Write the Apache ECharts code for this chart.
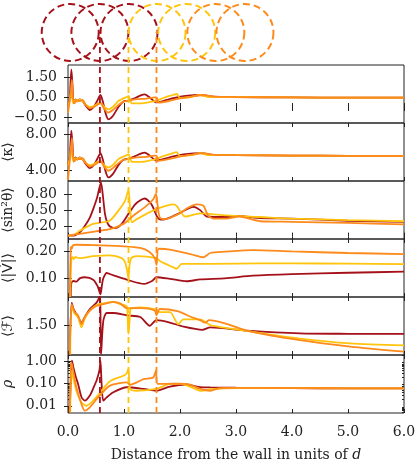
<!DOCTYPE html>
<html>
<head>
<meta charset="utf-8">
<script src="https://cdn.jsdelivr.net/npm/echarts@6/dist/echarts.min.js"></script>
<style>
  html, body { margin: 0; padding: 0; background: #fff; }
  #chart { width: 415px; height: 468px; }
</style>
</head>
<body>
<div id="chart"></div>
<script>
// x positions of the dashed circles (top strip) and of the dashed vertical markers
const circlesRed = [0.04, 0.57, 1.09]
const circlesYellow = [1.59, 2.12]
const circlesOrange = [2.64, 3.16]
const markerX = [0.57, 1.08, 1.58]

const xTickLabels = [0, 1, 2, 3, 4, 5, 6]

// panel 1: Gamma
const gammaRed = [[0,0.0],[0.03,0.4],[0.06,1.88],[0.08,1.1],[0.1,0.18],[0.13,0.38],[0.17,0.28],[0.21,0.38],[0.26,0.3],[0.32,0.05],[0.39,-0.15],[0.46,0.0],[0.52,0.3],[0.58,0.6],[0.62,0.3],[0.67,-0.3],[0.72,-0.62],[0.8,-0.45],[0.9,0.0],[0.99,0.27],[1.08,0.32],[1.2,0.45],[1.3,0.58],[1.37,0.63],[1.45,0.5],[1.58,0.23],[1.7,0.3],[1.9,0.45],[2.1,0.55],[2.36,0.6],[2.6,0.52],[3.0,0.5],[4.0,0.48],[5.0,0.47],[6.0,0.47]]
const gammaYellow = [[0,0.0],[0.03,0.3],[0.06,0.9],[0.09,0.2],[0.13,0.35],[0.17,0.28],[0.21,0.38],[0.26,0.3],[0.32,0.1],[0.39,0.0],[0.46,0.05],[0.52,0.15],[0.58,0.2],[0.65,0.0],[0.72,-0.12],[0.8,0.0],[0.9,0.3],[0.99,0.43],[1.05,0.5],[1.08,0.55],[1.11,0.35],[1.14,0.18],[1.3,0.18],[1.45,0.24],[1.58,0.32],[1.7,0.45],[1.85,0.58],[1.94,0.65],[2.0,0.45],[2.2,0.5],[2.36,0.6],[2.5,0.5],[3.0,0.5],[4.0,0.48],[5.0,0.47],[6.0,0.47]]
const gammaOrange = [[0,-0.3],[0.04,0.5],[0.07,1.35],[0.09,0.4],[0.12,0.2],[0.16,0.35],[0.21,0.3],[0.26,0.35],[0.32,0.1],[0.39,-0.07],[0.46,0.0],[0.52,0.1],[0.58,0.2],[0.65,-0.1],[0.72,-0.28],[0.8,-0.15],[0.9,0.1],[0.99,0.27],[1.08,0.32],[1.2,0.38],[1.4,0.42],[1.55,0.48],[1.58,0.48],[1.62,0.22],[1.8,0.3],[2.0,0.43],[2.2,0.52],[2.42,0.6],[2.6,0.52],[3.0,0.5],[4.0,0.48],[5.0,0.47],[6.0,0.47]]

// panel 2: <kappa>
const kappaRed = [[0,4.55],[0.03,5.4],[0.06,8.35],[0.08,6.9],[0.1,4.95],[0.13,5.4],[0.17,5.17],[0.21,5.4],[0.26,5.2],[0.32,4.66],[0.39,4.22],[0.46,4.55],[0.52,5.2],[0.58,5.87],[0.62,5.2],[0.67,3.89],[0.72,3.19],[0.8,3.56],[0.9,4.55],[0.99,5.14],[1.08,5.25],[1.2,5.54],[1.3,5.83],[1.37,5.94],[1.45,5.65],[1.58,5.06],[1.7,5.21],[1.9,5.54],[2.1,5.76],[2.36,5.87],[2.6,5.69],[3.0,5.65],[4.0,5.61],[5.0,5.58],[6.0,5.58]]
const kappaYellow = [[0,4.55],[0.03,5.21],[0.06,6.53],[0.09,4.99],[0.13,5.32],[0.17,5.17],[0.21,5.39],[0.26,5.21],[0.32,4.77],[0.39,4.55],[0.46,4.66],[0.52,4.88],[0.58,4.99],[0.65,4.55],[0.72,4.29],[0.8,4.55],[0.9,5.21],[0.99,5.5],[1.05,5.65],[1.08,5.76],[1.11,5.32],[1.14,4.9],[1.3,4.9],[1.45,5.05],[1.58,5.25],[1.7,5.54],[1.85,5.83],[1.94,5.98],[2.0,5.54],[2.2,5.65],[2.36,5.87],[2.5,5.65],[3.0,5.65],[4.0,5.61],[5.0,5.58],[6.0,5.58]]
const kappaOrange = [[0,2.9],[0.04,5.65],[0.07,7.52],[0.09,5.43],[0.12,4.99],[0.16,5.32],[0.21,5.21],[0.26,5.32],[0.32,4.77],[0.39,4.4],[0.46,4.55],[0.52,4.77],[0.58,4.99],[0.65,4.33],[0.72,3.93],[0.8,4.22],[0.9,4.77],[0.99,5.14],[1.08,5.25],[1.2,5.39],[1.4,5.47],[1.55,5.61],[1.58,5.61],[1.62,5.03],[1.8,5.21],[2.0,5.5],[2.2,5.69],[2.42,5.87],[2.6,5.69],[3.0,5.65],[4.0,5.61],[5.0,5.58],[6.0,5.58]]

// panel 3: <sin^2 theta>
const sinRed = [[0,0.02],[0.1,0.02],[0.21,0.08],[0.3,0.2],[0.39,0.36],[0.46,0.55],[0.52,0.74],[0.56,0.92],[0.59,1.02],[0.62,0.8],[0.66,0.43],[0.7,0.27],[0.75,0.19],[0.84,0.16],[0.96,0.24],[1.08,0.43],[1.2,0.61],[1.3,0.69],[1.37,0.72],[1.49,0.61],[1.6,0.36],[1.66,0.32],[1.82,0.36],[2.0,0.45],[2.24,0.56],[2.36,0.5],[2.48,0.38],[2.83,0.37],[3.05,0.39],[3.43,0.35],[4.0,0.34],[5.0,0.3],[6.0,0.28]]
const sinYellow = [[0,0.02],[0.1,0.03],[0.21,0.11],[0.45,0.24],[0.74,0.3],[0.9,0.49],[1.02,0.68],[1.08,0.88],[1.11,0.5],[1.14,0.27],[1.23,0.33],[1.4,0.43],[1.58,0.52],[1.88,0.61],[1.94,0.58],[2.09,0.38],[2.36,0.44],[2.83,0.4],[3.43,0.37],[4.0,0.34],[5.0,0.31],[6.0,0.29]]
const sinOrange = [[0,0.02],[0.21,0.05],[0.5,0.1],[0.75,0.14],[0.99,0.24],[1.16,0.39],[1.4,0.58],[1.52,0.7],[1.57,0.81],[1.6,0.6],[1.64,0.36],[1.73,0.33],[1.98,0.43],[2.15,0.55],[2.3,0.61],[2.42,0.58],[2.5,0.4],[2.6,0.34],[2.83,0.34],[3.05,0.38],[3.43,0.29],[4.0,0.28],[5.0,0.26],[6.0,0.23]]

// panel 4: <|V|>
const vRed = [[0.05,0.03],[0.06,0.083],[0.1,0.09],[0.15,0.088],[0.21,0.1],[0.3,0.104],[0.45,0.095],[0.53,0.07],[0.58,0.04],[0.61,0.08],[0.63,0.1],[0.69,0.12],[0.81,0.111],[1.05,0.095],[1.36,0.079],[1.5,0.09],[1.58,0.104],[1.82,0.098],[2.12,0.089],[2.36,0.096],[2.8,0.1],[3.3,0.11],[4.0,0.116],[5.0,0.121],[6.0,0.125]]
const vYellow = [[0.04,0.03],[0.06,0.17],[0.08,0.18],[0.1,0.172],[0.13,0.18],[0.2,0.176],[0.45,0.183],[0.75,0.186],[0.96,0.176],[1.02,0.16],[1.06,0.125],[1.08,0.1],[1.1,0.15],[1.13,0.176],[1.23,0.183],[1.58,0.176],[1.64,0.165],[1.88,0.141],[1.94,0.136],[2.03,0.154],[2.54,0.154],[3.43,0.156],[4.0,0.156],[5.0,0.155],[6.0,0.153]]
const vOrange = [[0.03,0.03],[0.05,0.214],[0.06,0.218],[0.07,0.212],[0.09,0.224],[0.15,0.226],[0.5,0.224],[1.0,0.22],[1.29,0.214],[1.45,0.2],[1.55,0.176],[1.58,0.15],[1.62,0.211],[1.82,0.208],[2.2,0.19],[2.42,0.179],[2.54,0.195],[2.8,0.2],[3.3,0.206],[4.0,0.201],[5.0,0.195],[6.0,0.191]]

// panel 5: <F>
const fRed = [[0.03,1.13],[0.065,1.78],[0.1,1.7],[0.18,1.6],[0.24,1.53],[0.3,1.6],[0.39,1.7],[0.51,1.78],[0.56,1.85],[0.575,1.9],[0.59,1.13],[0.63,1.55],[0.69,1.65],[0.81,1.65],[1.05,1.62],[1.29,1.6],[1.46,1.49],[1.58,1.56],[1.82,1.53],[2.06,1.48],[2.4,1.44],[2.54,1.47],[3.2,1.43],[4.14,1.396],[5.0,1.39],[6.0,1.388]]
const fYellow = [[0.04,1.13],[0.065,1.72],[0.12,1.64],[0.18,1.6],[0.24,1.47],[0.3,1.58],[0.39,1.68],[0.51,1.75],[0.63,1.77],[0.81,1.79],[0.93,1.76],[1.05,1.73],[1.07,1.5],[1.08,1.39],[1.1,1.55],[1.12,1.7],[1.29,1.72],[1.55,1.7],[1.64,1.66],[1.82,1.66],[1.97,1.51],[2.06,1.57],[2.36,1.57],[2.54,1.5],[3.25,1.42],[4.14,1.33],[5.04,1.27],[6.0,1.245]]
const fOrange = [[0.03,1.13],[0.065,1.76],[0.12,1.66],[0.18,1.62],[0.24,1.51],[0.3,1.6],[0.39,1.68],[0.51,1.74],[0.63,1.76],[0.81,1.79],[0.93,1.77],[1.05,1.71],[1.29,1.71],[1.55,1.68],[1.58,1.62],[1.64,1.7],[1.97,1.67],[2.2,1.6],[2.36,1.56],[2.45,1.53],[2.52,1.56],[2.8,1.52],[3.25,1.42],[4.14,1.31],[5.04,1.23],[6.0,1.167]]

// panel 6: rho (log)
const rhoRed = [[0.03,0.005],[0.06,0.6],[0.07,1.1],[0.1,0.5],[0.14,0.2],[0.18,0.098],[0.24,0.025],[0.3,0.017],[0.39,0.029],[0.46,0.07],[0.51,0.14],[0.56,0.39],[0.58,1.1],[0.6,0.1],[0.63,0.017],[0.69,0.024],[0.81,0.041],[1.05,0.069],[1.35,0.058],[1.58,0.048],[1.82,0.074],[2.12,0.091],[2.36,0.07],[2.54,0.068],[3.0,0.066],[4.0,0.063],[5.0,0.062],[6.0,0.062]]
const rhoYellow = [[0.04,0.005],[0.06,0.39],[0.1,0.15],[0.15,0.048],[0.24,0.014],[0.33,0.01],[0.45,0.017],[0.6,0.048],[0.75,0.13],[0.99,0.23],[1.05,0.3],[1.08,0.47],[1.11,0.058],[1.23,0.048],[1.58,0.058],[1.82,0.098],[2.0,0.1],[2.2,0.07],[2.36,0.048],[2.6,0.058],[3.0,0.063],[4.0,0.063],[5.0,0.062],[6.0,0.062]]
const rhoOrange = [[0.03,0.005],[0.05,0.5],[0.06,0.93],[0.1,0.3],[0.15,0.068],[0.24,0.012],[0.3,0.006],[0.39,0.0085],[0.51,0.02],[0.6,0.036],[0.75,0.082],[1.05,0.115],[1.11,0.09],[1.23,0.115],[1.35,0.16],[1.52,0.19],[1.57,0.39],[1.6,0.098],[1.88,0.1],[2.12,0.098],[2.36,0.058],[2.54,0.048],[2.7,0.062],[3.0,0.065],[4.0,0.063],[5.0,0.062],[6.0,0.062]]

const colors = ['#a5111a', '#ffc40c', '#fd8a1a']
const font = 'DejaVu Serif, DejaVu Sans, serif'

const panels = [
  { name: 'Γ', min: -0.8, max: 2.1, ticks: [-0.5, 0.5, 1.5], data: [gammaRed, gammaYellow, gammaOrange] },
  { name: '⟨κ⟩', min: 2.8, max: 9.2, ticks: [4, 8], data: [kappaRed, kappaYellow, kappaOrange] },
  { name: '⟨sin²θ⟩', min: -0.045, max: 1.05, ticks: [0.2, 0.5, 0.8], data: [sinRed, sinYellow, sinOrange] },
  { name: '⟨|V⃗|⟩', min: 0.03, max: 0.2475, ticks: [0.1, 0.2], data: [vRed, vYellow, vOrange] },
  { name: '⟨ℱ⟩', min: 1.125, max: 1.85, ticks: [1.5], data: [fRed, fYellow, fOrange] },
  { name: 'ρ', log: true, min: 0.0047, max: 2.0, ticks: [0.01, 0.1, 1],
    minor: [0.005,0.006,0.007,0.008,0.009,0.02,0.03,0.04,0.05,0.06,0.07,0.08,0.09,0.2,0.3,0.4,0.5,0.6,0.7,0.8,0.9,2],
    data: [rhoRed, rhoYellow, rhoOrange] }
]

const grid = []
const xAxis = []
const yAxis = []
const series = []
const tickStyle = { lineStyle: { color: '#222', width: 1 } }

panels.forEach((p, i) => {
  grid.push({ left: 68, right: 11, top: 65 + i * 58, height: 58, show: true, borderColor: '#222', borderWidth: 1,
    backgroundColor: 'transparent', outerBoundsMode: 'none', containLabel: false })
  const last = i === panels.length - 1
  ;['bottom', 'top'].forEach(pos => {
    xAxis.push({
      gridIndex: i, type: 'value', min: 0, max: 6, interval: 1, position: pos,
      axisLine: { show: false },
      axisTick: { show: true, inside: true, length: 4, ...tickStyle },
      axisLabel: { show: last && pos === 'bottom', margin: 12, fontFamily: font, fontSize: 14, color: '#222',
        formatter: v => v.toFixed(1) },
      splitLine: { show: false },
      name: last && pos === 'bottom' ? 'Distance from the wall in units of {i|d}' : '',
      nameLocation: 'middle', nameGap: 35,
      nameTextStyle: { fontFamily: font, fontSize: 14, color: '#222', rich: { i: { fontFamily: font, fontSize: 14, fontStyle: 'italic', color: '#222' } } }
    })
  })
  const yBase = {
    gridIndex: i, type: p.log ? 'log' : 'value', logBase: 10, min: p.min, max: p.max,
    axisLine: { show: false }, splitLine: { show: false }
  }
  yAxis.push({
    ...yBase, position: 'left',
    axisTick: { show: true, inside: true, length: 4, customValues: p.ticks, ...tickStyle },
    axisLabel: { show: true, customValues: p.ticks, margin: 11, fontFamily: font, fontSize: 14, color: '#222',
      formatter: v => Number(v).toFixed(2).replace('-', '−') },
    name: p.name, nameLocation: 'middle', nameGap: 47, nameRotate: 90,
    nameTextStyle: { fontFamily: font, fontSize: 14, color: '#222', fontStyle: p.log ? 'italic' : 'normal' }
  })
  yAxis.push({
    ...yBase, position: 'right',
    axisTick: { show: true, inside: true, length: 4, customValues: p.ticks, ...tickStyle },
    axisLabel: { show: false }
  })
  series.push(...p.data.map((d, k) => ({
    type: 'line', xAxisIndex: 2 * i, yAxisIndex: 2 * i, data: d,
    showSymbol: false, smooth: 0.25, silent: true, clip: true,
    lineStyle: { color: colors[k], width: 1.8 }, z: 2 + k
  })))
})

// minor ticks of the log panel
const rhoGrid = panels.length - 1
const rhoP = panels[rhoGrid]
;['left', 'right'].forEach(pos => {
  yAxis.push({
    gridIndex: rhoGrid, type: 'log', logBase: 10, min: rhoP.min, max: rhoP.max, position: pos,
    axisLine: { show: false }, splitLine: { show: false }, axisLabel: { show: false },
    axisTick: { show: true, inside: true, length: 2, customValues: rhoP.minor, ...tickStyle }
  })
})

// strip with dashed circles on top
const circleGrid = grid.length
grid.push({ left: 68, right: 11, top: 3, height: 59, outerBoundsMode: 'none', containLabel: false })
xAxis.push({ gridIndex: circleGrid, type: 'value', min: 0, max: 6, show: false })
yAxis.push({ gridIndex: circleGrid, type: 'value', min: 0, max: 1, show: false })
const circleIdxX = xAxis.length - 1
const circleIdxY = yAxis.length - 1
;[circlesRed, circlesYellow, circlesOrange].forEach((arr, k) => {
  series.push({
    type: 'scatter', xAxisIndex: circleIdxX, yAxisIndex: circleIdxY, silent: true,
    data: arr.map(x => [x, 0.5]), symbol: 'circle', symbolSize: 57,
    itemStyle: { color: 'rgba(0,0,0,0)', opacity: 1, borderColor: colors[k], borderWidth: 2, borderType: [7, 4] }
  })
})

// dashed vertical markers through all panels
const lineGrid = grid.length
grid.push({ left: 68, right: 11, top: 32, bottom: 55, outerBoundsMode: 'none', containLabel: false })
xAxis.push({ gridIndex: lineGrid, type: 'value', min: 0, max: 6, show: false })
yAxis.push({ gridIndex: lineGrid, type: 'value', min: 0, max: 1, show: false })
markerX.forEach((x, k) => {
  series.push({
    type: 'line', xAxisIndex: xAxis.length - 1, yAxisIndex: yAxis.length - 1, silent: true,
    data: [[x, 0], [x, 1]], showSymbol: false, z: 10,
    lineStyle: { color: colors[k], width: 1.8, type: [6, 4] }
  })
})

const chart = echarts.init(document.getElementById('chart'))
chart.setOption({ animation: false, grid, xAxis, yAxis, series })
</script>
</body>
</html>
